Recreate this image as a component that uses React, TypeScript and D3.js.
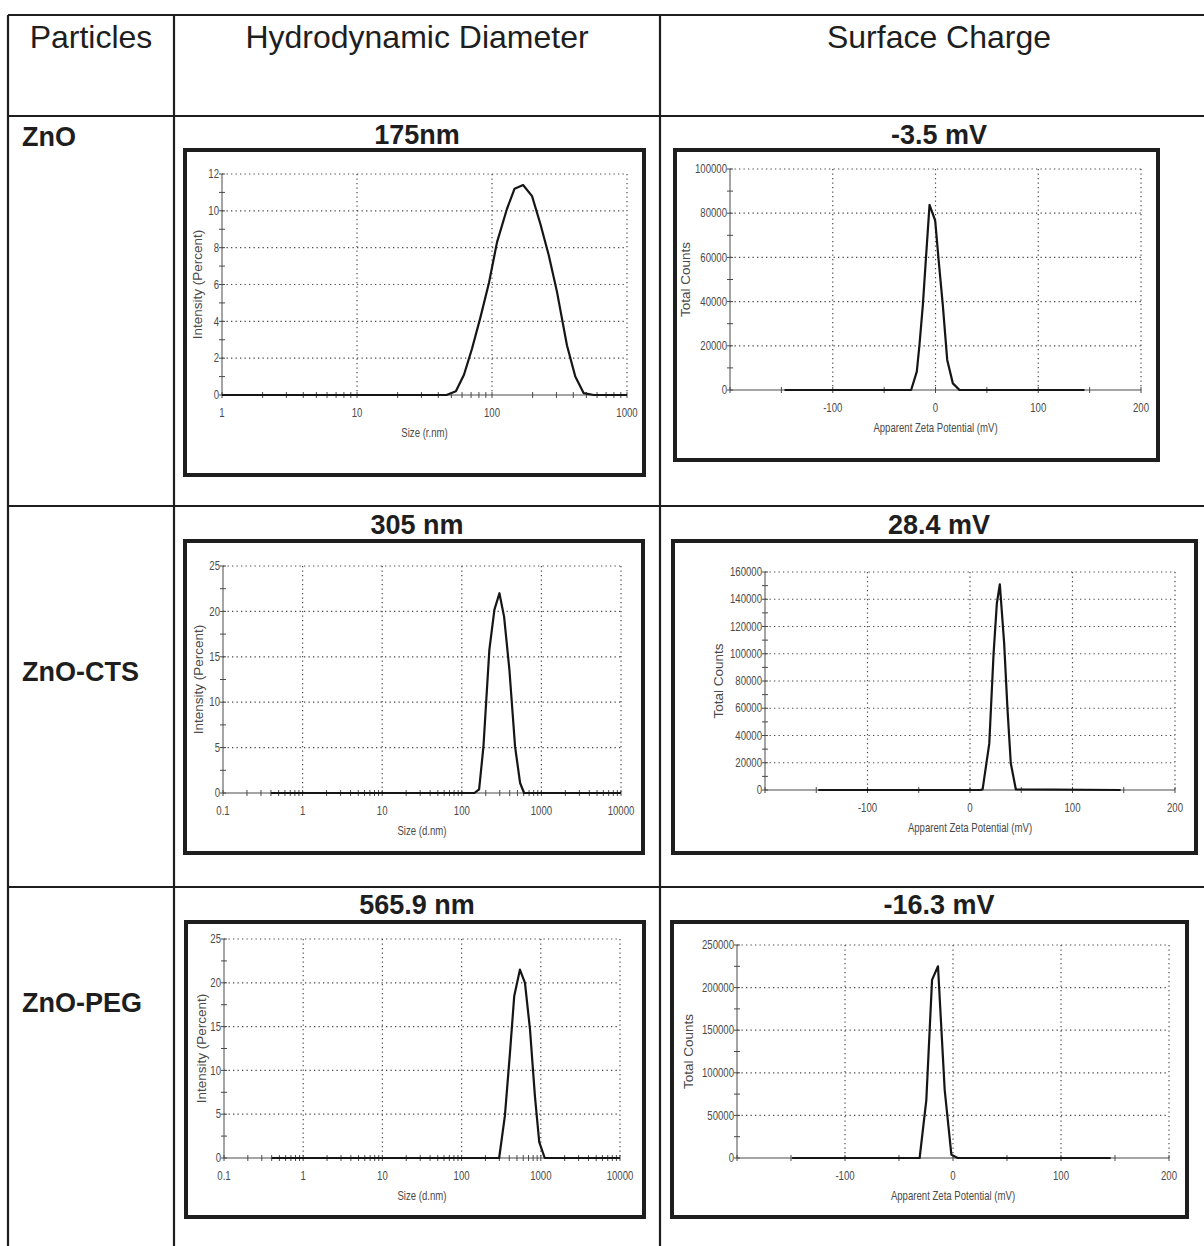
import * as d3 from "d3";

const W = 1204;
const H = 1246;

// table text
const headerLabels = ["Particles", "Hydrodynamic Diameter", "Surface Charge"];
const particleNames = ["ZnO", "ZnO-CTS", "ZnO-PEG"];
const sizeTitles = ["175nm", "305 nm", "565.9 nm"];
const chargeTitles = ["-3.5 mV", "28.4 mV", "-16.3 mV"];

// hydrodynamic size distributions (size in nm, intensity %)
const znoSizeX = [1, 46, 54, 62, 71, 82, 95, 109, 129, 147, 170, 198, 228, 263, 303, 359, 414, 478, 566, 1000];
const znoSizeY = [0, 0, 0.2, 1.1, 2.5, 4.2, 6.1, 8.3, 10.1, 11.2, 11.4, 10.8, 9.3, 7.6, 5.6, 2.7, 1.0, 0.1, 0, 0];
const ctsSizeX = [0.4, 144, 165, 187, 222, 257, 297, 340, 396, 467, 540, 606, 10000];
const ctsSizeY = [0, 0, 0.4, 5.1, 15.8, 20.2, 22, 19.4, 13.6, 5.1, 1.1, 0, 0];
const pegSizeX = [0.4, 298, 352, 408, 462, 545, 631, 730, 844, 956, 1122, 10000];
const pegSizeY = [0, 0, 4.8, 12, 18.5, 21.5, 20, 14.7, 7, 1.8, 0, 0];

// zeta potential distributions (mV, total counts)
const znoZetaX = [-147, -23.7, -18.2, -15.6, -12.3, -9.1, -5.8, -0.3, 3.2, 7.1, 11.4, 16.9, 23.4, 145];
const znoZetaY = [0, 0, 8300, 20400, 38500, 61000, 83800, 76600, 58000, 38500, 13600, 3000, 0, 0];
const ctsZetaX = [-148, 10, 12.3, 18.8, 23, 26.2, 29.1, 33.3, 36.6, 39.8, 44.7, 147];
const ctsZetaY = [0, 0, 500, 34000, 100000, 137000, 151000, 108000, 59000, 19600, 500, 0];
const pegZetaX = [-149, -30.9, -24.7, -19.4, -13.9, -7.7, -1.5, 4.3, 146];
const pegZetaY = [0, 0, 68000, 209000, 225000, 80000, 4000, 0, 0];

const HEAD = "'Liberation Sans', Arial, Helvetica, sans-serif";
const INK = "#1e1e1e";
const GRAY = "#4a4a4a";

// layout of the six small charts
const panels = [
  { log: true, frame: [185, 150, 459, 325], plot: { l: 222, t: 174, r: 627, b: 395 }, xDomain: [1, 1000], yMax: 12, yStep: 2, yMinor: 1, xs: znoSizeX, ys: znoSizeY, xTitle: "Size (r.nm)", yTitle: "Intensity (Percent)", yTitleX: 197 },
  { log: false, frame: [675, 150, 483, 310], plot: { l: 730, t: 169, r: 1141, b: 390 }, xDomain: [-200, 200], yMax: 100000, yStep: 20000, yMinor: 10000, xs: znoZetaX, ys: znoZetaY, xTitle: "Apparent Zeta Potential (mV)", yTitle: "Total Counts", yTitleX: 685 },
  { log: true, frame: [185, 541, 458, 312], plot: { l: 223, t: 566, r: 621, b: 793 }, xDomain: [0.1, 10000], yMax: 25, yStep: 5, yMinor: 2.5, xs: ctsSizeX, ys: ctsSizeY, xTitle: "Size (d.nm)", yTitle: "Intensity (Percent)", yTitleX: 198 },
  { log: false, frame: [673, 541, 523, 312], plot: { l: 765, t: 572, r: 1175, b: 790 }, xDomain: [-200, 200], yMax: 160000, yStep: 20000, yMinor: 10000, xs: ctsZetaX, ys: ctsZetaY, xTitle: "Apparent Zeta Potential (mV)", yTitle: "Total Counts", yTitleX: 718 },
  { log: true, frame: [186, 922, 458, 295], plot: { l: 224, t: 939, r: 620, b: 1158 }, xDomain: [0.1, 10000], yMax: 25, yStep: 5, yMinor: 2.5, xs: pegSizeX, ys: pegSizeY, xTitle: "Size (d.nm)", yTitle: "Intensity (Percent)", yTitleX: 201 },
  { log: false, frame: [672, 922, 515, 295], plot: { l: 737, t: 945, r: 1169, b: 1158 }, xDomain: [-200, 200], yMax: 250000, yStep: 50000, yMinor: 25000, xs: pegZetaX, ys: pegZetaY, xTitle: "Apparent Zeta Potential (mV)", yTitle: "Total Counts", yTitleX: 688 },
];

// narrow instrument-style text (horizontally squeezed sans)
function NText({ x, y, anchor, children }: { x: number; y: number; anchor: string; children: any }) {
  return (
    <g transform={`translate(${x},${y}) scale(0.8,1)`}>
      <text dy="0.35em" textAnchor={anchor} fontFamily={HEAD} fontSize={12} fill={GRAY}>
        {children}
      </text>
    </g>
  );
}

function Panel({ p }: { p: any }) {
  const { l, t, r, b } = p.plot;
  const x: any = p.log
    ? d3.scaleLog().domain(p.xDomain).range([l, r])
    : d3.scaleLinear().domain(p.xDomain).range([l, r]);
  const y = d3.scaleLinear().domain([0, p.yMax]).range([b, t]);

  const yMajor = d3.range(0, p.yMax + 1e-6, p.yStep);
  const yMinor = d3.range(0, p.yMax + 1e-6, p.yMinor);

  let xTicks: number[], xLabels: number[], xGrid: number[];
  if (p.log) {
    xTicks = x.ticks();
    xLabels = xTicks.filter((v) => Math.abs(Math.log10(v) - Math.round(Math.log10(v))) < 1e-9);
    xGrid = xLabels.filter((v) => v > p.xDomain[0]);
  } else {
    xTicks = d3.range(-200, 201, 50);
    xLabels = [-100, 0, 100, 200];
    xGrid = [-100, 0, 100, 200];
  }
  const fmt = (v: number) => (p.log ? d3.format("~g")(v) : String(v));

  const pts: [number, number][] = p.xs.map((v: number, i: number) => [v, p.ys[i]]);
  const line = d3.line<[number, number]>().x((d) => x(d[0])).y((d) => y(d[1]));

  const [fx, fy, fw, fh] = p.frame;
  return (
    <g>
      <rect x={fx} y={fy} width={fw} height={fh} fill="#fff" stroke={INK} strokeWidth={4} />
      {/* dotted grid */}
      {yMajor.filter((v) => v > 0).map((v) => (
        <line key={"gy" + v} x1={l} x2={r} y1={y(v)} y2={y(v)} stroke={GRAY} strokeWidth={1.2} strokeDasharray="1.3,3.2" />
      ))}
      {xGrid.map((v) => (
        <line key={"gx" + v} x1={x(v)} x2={x(v)} y1={t} y2={b} stroke={GRAY} strokeWidth={1.2} strokeDasharray="1.3,3.2" />
      ))}
      {/* axes */}
      <line x1={l} x2={l} y1={t} y2={b} stroke={GRAY} strokeWidth={1} />
      <line x1={l} x2={r} y1={b} y2={b} stroke={GRAY} strokeWidth={1} />
      {yMinor.map((v) => (
        <line key={"ty" + v} x1={l - 3} x2={l + 3} y1={y(v)} y2={y(v)} stroke={GRAY} strokeWidth={1} />
      ))}
      {xTicks.map((v) => (
        <line key={"tx" + v} x1={x(v)} x2={x(v)} y1={b - 3} y2={b + 3} stroke={GRAY} strokeWidth={1} />
      ))}
      {yMajor.map((v) => (
        <NText key={"ly" + v} x={l - 3} y={y(v)} anchor="end">
          {String(v)}
        </NText>
      ))}
      {xLabels.map((v) => (
        <NText key={"lx" + v} x={x(v)} y={b + 18} anchor="middle">
          {fmt(v)}
        </NText>
      ))}
      <NText x={(l + r) / 2} y={b + 38} anchor="middle">
        {p.xTitle}
      </NText>
      <text
        transform={`translate(${p.yTitleX},${(t + b) / 2}) rotate(-90)`}
        dy="0.35em"
        textAnchor="middle"
        fontFamily={HEAD}
        fontSize={13.5}
        fill={GRAY}
      >
        {p.yTitle}
      </text>
      <path d={line(pts) || ""} fill="none" stroke="#151515" strokeWidth={2.2} strokeLinejoin="round" />
    </g>
  );
}

export default function App() {
  const colX = [8, 174, 660, 1218];
  const rowY = [15, 116, 506, 887];
  const nameY = [137, 672, 1003];
  const titleBase = [144, 534, 914];
  return (
    <svg width={W} height={H} style={{ position: "absolute", left: 0, top: 0, background: "#fff" }}>
      <rect width={W} height={H} fill="#fff" />
      {/* table grid */}
      {rowY.map((yy) => (
        <line key={"r" + yy} x1={colX[0]} x2={colX[3]} y1={yy} y2={yy} stroke={INK} strokeWidth={2.2} />
      ))}
      {colX.map((xx) => (
        <line key={"c" + xx} x1={xx} x2={xx} y1={rowY[0]} y2={H + 5} stroke={INK} strokeWidth={2.2} />
      ))}
      {headerLabels.map((s, i) => (
        <text key={s} x={(colX[i] + colX[i + 1]) / 2} y={48} textAnchor="middle" fontFamily={HEAD} fontSize={32} fill={INK}>
          {s}
        </text>
      ))}
      {particleNames.map((s, i) => (
        <text key={s} x={22} y={nameY[i]} dy="0.35em" fontFamily={HEAD} fontWeight="bold" fontSize={27} fill={INK}>
          {s}
        </text>
      ))}
      {sizeTitles.map((s, i) => (
        <text key={s} x={(colX[1] + colX[2]) / 2} y={titleBase[i]} textAnchor="middle" fontFamily={HEAD} fontWeight="bold" fontSize={27} fill={INK}>
          {s}
        </text>
      ))}
      {chargeTitles.map((s, i) => (
        <text key={s} x={(colX[2] + colX[3]) / 2} y={titleBase[i]} textAnchor="middle" fontFamily={HEAD} fontWeight="bold" fontSize={27} fill={INK}>
          {s}
        </text>
      ))}
      {panels.map((p, i) => (
        <Panel key={i} p={p} />
      ))}
    </svg>
  );
}
